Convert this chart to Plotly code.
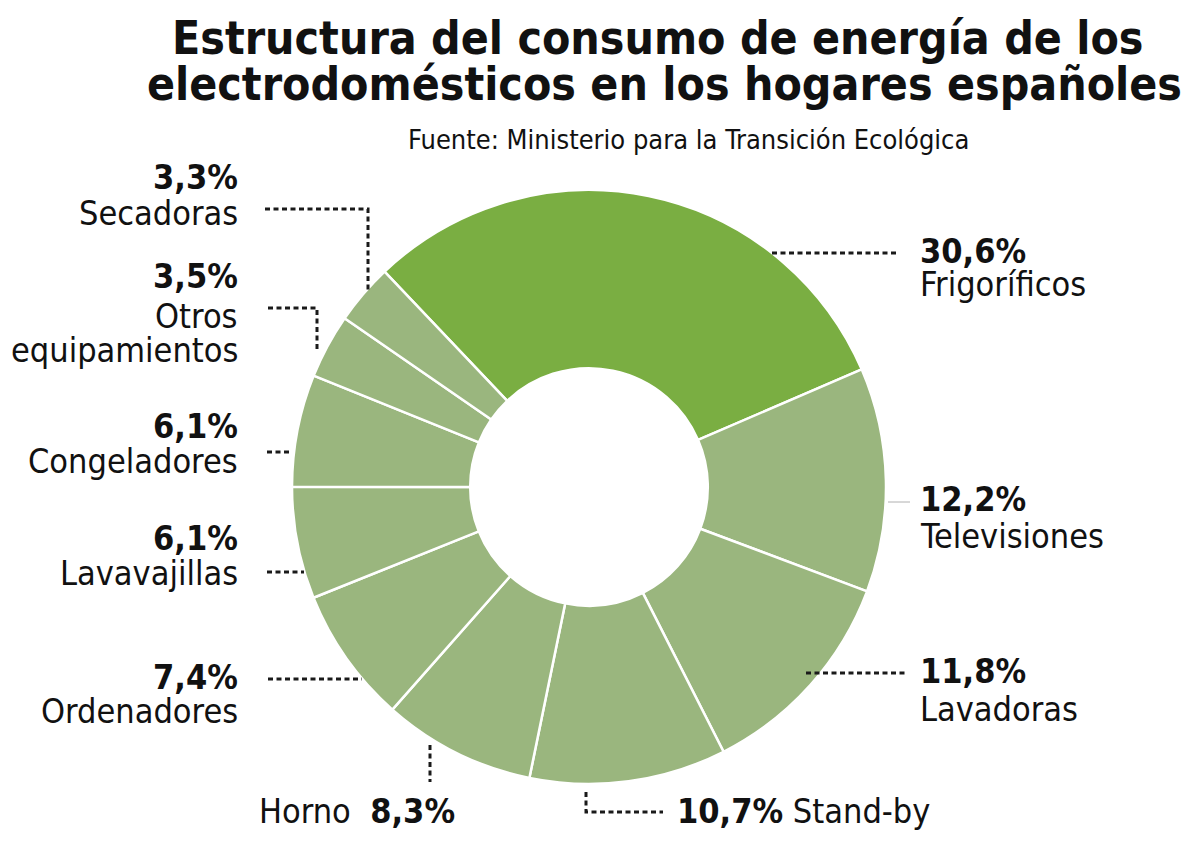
import plotly.graph_objects as go

# ---------------- data ----------------
categories = ["Frigoríficos", "Televisiones", "Lavadoras", "Stand-by", "Horno",
              "Ordenadores", "Lavavajillas", "Congeladores", "Otros equipamientos", "Secadoras"]
values = [30.6, 12.2, 11.8, 10.7, 8.3, 7.4, 6.1, 6.1, 3.5, 3.3]
title_lines = ["Estructura del consumo de energía de los",
               "electrodomésticos en los hogares españoles"]
source = "Fuente: Ministerio para la Transición Ecológica"

# page is offset by the default 8px body margin
OFF = 8
W, H = 1200 - 2 * OFF, 859 - 2 * OFF
def px(x): return (x - OFF) / W
def py(y): return 1 - (y - OFF) / H

def pct(v): return f"{v:.1f}".replace(".", ",") + "%"

GREEN = "#7aae42"
LIGHT = "#9ab67e"
colors = [GREEN] + [LIGHT] * (len(values) - 1)

cx, cy, R = 589, 487, 297

fig = go.Figure(go.Pie(
    labels=categories, values=values, sort=False, direction="clockwise",
    rotation=-43.5, hole=0.40, textinfo="none",
    marker=dict(colors=colors, line=dict(color="white", width=2.5)),
    domain=dict(x=[px(cx - R), px(cx + R)], y=[py(cy + R), py(cy - R)]),
    showlegend=False,
))

FONT = "DejaVu Sans Condensed, Liberation Sans, Arial, sans-serif"
FS = 34

ann = []
def add(text, x, y, xanchor, size=FS, family=FONT):
    ann.append(dict(text=text, x=px(x), y=py(y), xref="paper", yref="paper",
                    xanchor=xanchor, yanchor="middle", showarrow=False,
                    font=dict(family=family, size=size, color="#111")))

# title
add("<b>" + title_lines[0] + "</b>", 657, 38, "center", size=46)
add("<b>" + title_lines[1] + "</b>", 664, 84, "center", size=46)
add(source, 688, 139, "center", size=27)

idx = {c: i for i, c in enumerate(categories)}
# right side labels (left aligned)
right = [("Frigoríficos", 251, 284), ("Televisiones", 499, 536), ("Lavadoras", 671, 709)]
for name, y1, y2 in right:
    add("<b>" + pct(values[idx[name]]) + "</b>", 918, y1, "left")
    add(name, 918, y2, "left")

# left side labels (right aligned)
left = [("Secadoras", 177, [213]), ("Otros equipamientos", 276, [316, 350]),
        ("Congeladores", 426, [461]), ("Lavavajillas", 538, [573]),
        ("Ordenadores", 677, [711])]
for name, y1, ys in left:
    add("<b>" + pct(values[idx[name]]) + "</b>", 240, y1, "right")
    parts = ["Otros", "equipamientos"] if name == "Otros equipamientos" else [name]
    for p, y in zip(parts, ys):
        add(p, 240, y, "right")

# bottom labels
add("Horno  <b>" + pct(values[idx["Horno"]]) + "</b>", 457, 811, "right")
add("<b>" + pct(values[idx["Stand-by"]]) + "</b> Stand-by", 675, 811, "left")

# leader lines (pixel waypoints)
leaders = [
    [(772, 253), (898, 253)],
    [(806, 673), (905, 673)],
    [(265, 209), (368, 209), (368, 290)],
    [(268, 308), (317, 308), (317, 350)],
    [(267, 452), (292, 452)],
    [(267, 572), (304, 572)],
    [(268, 679), (362, 679)],
    [(430, 745), (430, 782)],
    [(586, 792), (586, 812), (663, 812)],
]
shapes = []
for pts in leaders:
    path = "M " + " L ".join(f"{px(x)},{py(y)}" for x, y in pts)
    shapes.append(dict(type="path", path=path, xref="paper", yref="paper",
                       line=dict(color="#1a1a1a", width=3, dash="5px,3.5px")))
shapes.append(dict(type="line", xref="paper", yref="paper",
                   x0=px(888), y0=py(502), x1=px(910), y1=py(502),
                   line=dict(color="#b0b0b0", width=1)))

fig.update_layout(
    width=W, height=H, margin=dict(l=0, r=0, t=0, b=0),
    paper_bgcolor="white", plot_bgcolor="white",
    annotations=ann, shapes=shapes,
)
fig.write_html("out.html")
